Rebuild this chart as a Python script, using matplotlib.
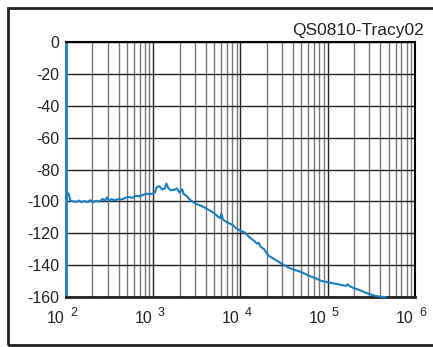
import numpy as np
import matplotlib.pyplot as plt
from matplotlib.patches import Rectangle
from matplotlib.transforms import blended_transform_factory, offset_copy

# Noise spectrum
log_freq = [2.00, 2.01, 2.03, 2.05, 2.08, 2.12, 2.15, 2.18, 2.21, 2.25, 2.28, 2.31,
            2.35, 2.38, 2.42, 2.45, 2.47, 2.49, 2.52, 2.56, 2.60, 2.64, 2.68, 2.72,
            2.76, 2.80, 2.84, 2.88, 2.92, 2.96, 3.00, 3.02, 3.04, 3.07, 3.10, 3.13,
            3.15, 3.17, 3.20, 3.24, 3.27, 3.30, 3.33, 3.35, 3.38, 3.42, 3.46, 3.50,
            3.55, 3.60, 3.65, 3.70, 3.74, 3.77, 3.78, 3.80, 3.85, 3.90, 3.95, 4.00,
            4.05, 4.10, 4.15, 4.19, 4.21, 4.23, 4.27, 4.32, 4.38, 4.44, 4.50, 4.56,
            4.62, 4.68, 4.74, 4.80, 4.86, 4.92, 4.98, 5.04, 5.10, 5.16, 5.21, 5.23,
            5.25, 5.30, 5.36, 5.42, 5.48, 5.54, 5.60, 5.66]
level_db = [-98.0, -96.0, -95.0, -99.5, -100.0, -100.3, -99.5, -100.5, -99.8, -100.5, -99.2, -100.4,
            -99.6, -100.2, -98.5, -99.5, -97.5, -99.8, -98.6, -99.3, -98.5, -98.8, -97.8, -97.2,
            -97.8, -96.5, -96.8, -96.0, -95.2, -95.5, -95.0, -94.5, -91.0, -90.5, -92.5, -92.0,
            -88.8, -91.5, -93.0, -92.8, -91.8, -94.5, -92.3, -95.5, -96.5, -99.0, -100.5, -101.8,
            -102.8, -104.2, -105.8, -107.5, -109.5, -110.5, -107.8, -111.5, -113.2, -114.5, -116.8, -118.5,
            -119.5, -122.5, -124.5, -126.5, -126.0, -128.5, -130.0, -134.0, -136.0, -138.0, -140.0, -141.8,
            -143.0, -144.0, -145.5, -147.0, -148.2, -149.8, -150.5, -151.2, -151.8, -152.5, -153.0, -152.0,
            -153.2, -154.5, -155.5, -157.0, -158.2, -159.2, -159.8, -160.0]

y_ticks = [0, -20, -40, -60, -80, -100, -120, -140, -160]
x_ticks = [1e2, 1e3, 1e4, 1e5, 1e6]
x_exponents = ['2', '3', '4', '5', '6']
title = "QS0810-Tracy02"

plt.rcParams['font.family'] = 'Liberation Sans'
plt.rcParams['axes.unicode_minus'] = False

blue = '#1a7fc2'
ink = '#222222'

fig = plt.figure(figsize=(4.33, 3.47), dpi=100)
# outer frame
fig.patches.append(Rectangle((8 / 433, 2 / 347), 1.2, 337 / 347, transform=fig.transFigure,
                             fill=False, edgecolor=ink, linewidth=2))

ax = fig.add_axes([66 / 433, 1 - 297 / 347, 349 / 433, 255 / 347])
freq = 10 ** np.array(log_freq)
ax.plot(freq, level_db, color=blue, linewidth=1.5, zorder=3, clip_on=False)

ax.set_xscale('log')
ax.set_xlim(1e2, 1e6)
ax.set_ylim(-160, 0)
ax.set_yticks(y_ticks)
ax.set_xticks(x_ticks)
ax.set_xticklabels([])
ax.tick_params(axis='both', which='both', length=0, labelsize=11.5, colors=ink)
ax.tick_params(axis='y', pad=5)

# x labels: "10" plus a raised exponent
trans = blended_transform_factory(ax.transData, ax.transAxes)
for xt, ex in zip(x_ticks, x_exponents):
    ax.text(xt, 0, '10', transform=offset_copy(trans, fig=fig, x=-1, y=-26, units='dots'),
            ha='right', va='baseline', fontsize=11.5, color=ink)
    ax.text(xt, 0, ex, transform=offset_copy(trans, fig=fig, x=4, y=-19, units='dots'),
            ha='left', va='baseline', fontsize=9, color=ink)

ax.grid(which='major', color=ink, linewidth=1)
ax.grid(which='minor', axis='x', color='#777777', linewidth=1)
ax.set_axisbelow(True)

ax.spines['left'].set_color(blue)
ax.spines['left'].set_linewidth(2)
ax.spines['bottom'].set_color(ink)
ax.spines['bottom'].set_linewidth(2)
ax.spines['top'].set_linewidth(1.5)
ax.spines['right'].set_linewidth(1.5)

fig.text(424 / 433, 1 - 31 / 347, title, ha='right', va='center', fontsize=12.5, color=ink)

fig.savefig('out.png', dpi=100)
